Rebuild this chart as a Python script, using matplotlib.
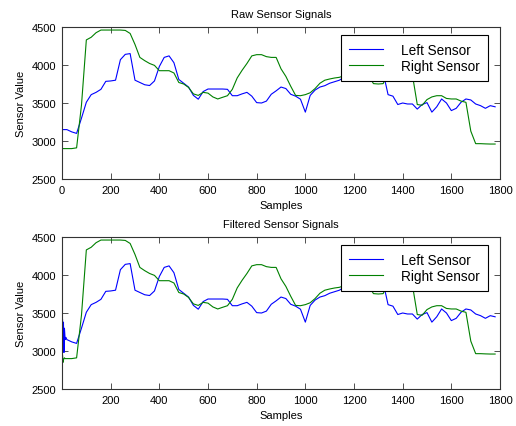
import matplotlib
matplotlib.use("Agg")
import matplotlib.pyplot as plt

plt.rcParams['font.family'] = ['Liberation Sans', 'DejaVu Sans']

# Sample positions (every 20 samples)
samples = list(range(0, 1800, 20))

left_raw = [3150, 3150, 3120, 3100, 3300, 3510, 3610, 3640, 3680, 3785,
            3790, 3800, 4070, 4140, 4150, 3800, 3770, 3740, 3730, 3790,
            3980, 4100, 4120, 4030, 3810, 3760, 3710, 3600, 3550, 3650,
            3684, 3684, 3684, 3684, 3680, 3596, 3596, 3620, 3640, 3590,
            3505, 3500, 3525, 3615, 3660, 3710, 3690, 3615, 3590, 3550,
            3380, 3600, 3670, 3710, 3728, 3760, 3780, 3800, 3840, 3900,
            3930, 3950, 3960, 3960, 3960, 3950, 3900, 3610, 3590, 3480,
            3500, 3487, 3487, 3420, 3480, 3505, 3380, 3450, 3553, 3500,
            3400, 3430, 3510, 3553, 3540, 3487, 3465, 3430, 3465, 3450]

right_raw = [2900, 2900, 2900, 2910, 3470, 4330, 4365, 4425, 4460, 4460,
             4460, 4460, 4460, 4455, 4415, 4270, 4100, 4057, 4020, 3995,
             3925, 3925, 3925, 3895, 3770, 3750, 3705, 3620, 3600, 3640,
             3630, 3580, 3553, 3575, 3596, 3680, 3830, 3930, 4020, 4120,
             4136, 4136, 4110, 4100, 4100, 3950, 3850, 3720, 3600, 3596,
             3610, 3635, 3690, 3760, 3800, 3816, 3829, 3838, 3860, 3890,
             3900, 3890, 3880, 3860, 3755, 3750, 3755, 3900, 3950, 3980,
             3990, 3980, 3870, 3480, 3470, 3545, 3580, 3596, 3596, 3560,
             3553, 3553, 3525, 3509, 3130, 2965, 2965, 2962, 2960, 2960]

# Filter start-up transient (first samples of the filtered signals)
filt_head_x = [1, 2, 4, 6, 8, 10, 13, 16]
filt_left_head = [3000, 3420, 3050, 3380, 2980, 3300, 3150, 3180]
filt_right_head = [2500, 2950, 2850, 2880, 2900, 2910, 2900, 2900]

labels = ['Left Sensor', 'Right Sensor']
titles = ['Raw Sensor Signals', 'Filtered Sensor Signals']
x_label = 'Samples'
y_label = 'Sensor Value'
y_ticks = [2500, 3000, 3500, 4000, 4500]

BLUE = '#0000ff'
GREEN = '#008000'
FRAME = '#333333'

fig = plt.figure(figsize=(5.16, 4.27), dpi=100)
ax1 = fig.add_axes([62/516, (427-180)/427, 438/516, 152/427])
ax2 = fig.add_axes([62/516, (427-390)/427, 438/516, 152/427])

filt_x = filt_head_x + samples[1:]
filt_left = filt_left_head + left_raw[1:]
filt_right = filt_right_head + right_raw[1:]

ax1.plot(samples, left_raw, color=BLUE, lw=0.8, label=labels[0])
ax1.plot(samples, right_raw, color=GREEN, lw=0.8, label=labels[1])
ax2.plot(filt_x, filt_left, color=BLUE, lw=0.8, label=labels[0])
ax2.plot(filt_x, filt_right, color=GREEN, lw=0.8, label=labels[1])

for i, ax in enumerate([ax1, ax2]):
    ax.set_xlim(0, 1800)
    ax.set_ylim(2500, 4500)
    ax.set_yticks(y_ticks)
    if i == 0:
        ax.set_xticks(range(0, 1801, 200))
    else:
        ax.set_xticks(range(200, 1801, 200))
    ax.tick_params(direction='in', top=True, right=True, length=4,
                   width=0.6, color=FRAME, labelsize=8, pad=4)
    for s in ax.spines.values():
        s.set_color(FRAME)
        s.set_linewidth(0.8)
    ax.set_title(titles[i], fontsize=8, pad=7)
    ax.set_xlabel(x_label, fontsize=8, labelpad=4)
    ax.set_ylabel(y_label, fontsize=8, labelpad=4)
    leg = ax.legend(loc='upper right', bbox_to_anchor=(0.9726, 0.947),
                    borderaxespad=0, fontsize=9.8, fancybox=False,
                    framealpha=1, edgecolor='black', handlelength=2.5,
                    handletextpad=1.3, labelspacing=0.1, borderpad=0.6)
    leg.get_frame().set_linewidth(0.8)

fig.savefig('out.png', dpi=100, facecolor='white')
